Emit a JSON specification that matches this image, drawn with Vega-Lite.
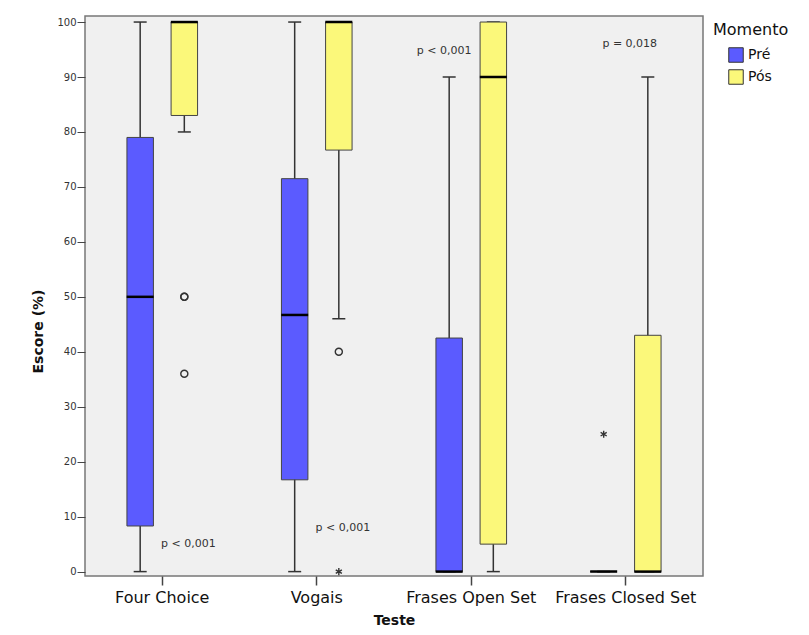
{
  "$schema": "https://vega.github.io/schema/vega-lite/v6.json",
  "autosize": {"type": "none"},
  "padding": {"left": 85, "top": 16, "right": 106, "bottom": 59},
  "width": 618,
  "height": 560,
  "background": "white",
  "config": {
    "font": "DejaVu Sans",
    "view": {"fill": "#f0f0f0", "stroke": "#777777", "strokeWidth": 1.5}
  },
  "datasets": {
    "boxes": [
      {"teste": "Four Choice", "momento": "Pré", "lower": 0, "q1": 8.3, "median": 50, "q3": 79, "upper": 100},
      {"teste": "Four Choice", "momento": "Pós", "lower": 80, "q1": 83, "median": 100, "q3": 100, "upper": 100},
      {"teste": "Vogais", "momento": "Pré", "lower": 0, "q1": 16.7, "median": 46.7, "q3": 71.5, "upper": 100},
      {"teste": "Vogais", "momento": "Pós", "lower": 46, "q1": 76.7, "median": 100, "q3": 100, "upper": 100},
      {"teste": "Frases Open Set", "momento": "Pré", "lower": 0, "q1": 0, "median": 0, "q3": 42.5, "upper": 90},
      {"teste": "Frases Open Set", "momento": "Pós", "lower": 0, "q1": 5, "median": 90, "q3": 100, "upper": 100},
      {"teste": "Frases Closed Set", "momento": "Pré", "lower": 0, "q1": 0, "median": 0, "q3": 0, "upper": 0},
      {"teste": "Frases Closed Set", "momento": "Pós", "lower": 0, "q1": 0, "median": 0, "q3": 43, "upper": 90}
    ],
    "outliers": [
      {"teste": "Four Choice", "momento": "Pós", "value": 50, "tipo": "circulo"},
      {"teste": "Four Choice", "momento": "Pós", "value": 50, "tipo": "circulo"},
      {"teste": "Four Choice", "momento": "Pós", "value": 36, "tipo": "circulo"},
      {"teste": "Vogais", "momento": "Pós", "value": 40, "tipo": "circulo"},
      {"teste": "Vogais", "momento": "Pós", "value": 0, "tipo": "estrela"},
      {"teste": "Frases Closed Set", "momento": "Pré", "value": 25, "tipo": "estrela"}
    ],
    "notas": [
      {"teste": "Four Choice", "momento": "Pós", "value": 5, "texto": "p < 0,001"},
      {"teste": "Vogais", "momento": "Pós", "value": 8, "texto": "p < 0,001"}
    ],
    "notas1": [
      {"teste": "Frases Open Set", "momento": "Pré", "value": 94.7, "texto": "p < 0,001"}
    ],
    "notas2": [
      {"teste": "Frases Closed Set", "value": 96, "texto": "p = 0,018"}
    ]
  },
  "encoding": {
    "x": {
      "field": "teste",
      "type": "nominal",
      "sort": ["Four Choice", "Vogais", "Frases Open Set", "Frases Closed Set"],
      "scale": {"paddingInner": 0, "paddingOuter": 0},
      "axis": {
        "title": "Teste",
        "titleFontSize": 14,
        "titleFontWeight": "bold",
        "titleColor": "#111111",
        "titlePadding": 8,
        "labelAngle": 0,
        "labelFontSize": 16,
        "labelColor": "#111111",
        "labelPadding": 4,
        "tickSize": 9,
        "tickColor": "#444444",
        "tickWidth": 1.5,
        "domain": false
      }
    }
  },
  "layer": [
    {
      "data": {"name": "boxes"},
      "mark": {"type": "rule", "color": "#333333", "strokeWidth": 1.5},
      "encoding": {
        "xOffset": {"field": "momento", "type": "nominal", "sort": ["Pré", "Pós"], "scale": {"paddingInner": 0.4, "paddingOuter": 0.95}},
        "y": {
          "field": "lower",
          "type": "quantitative",
          "scale": {"domain": [-0.8, 101.1], "nice": false, "zero": false},
          "axis": {
            "title": "Escore (%)",
            "titleFontSize": 14,
            "titleFontWeight": "bold",
            "titleColor": "#111111",
            "titlePadding": 11,
            "titleY": 315,
            "values": [0, 5, 10, 15, 20, 25, 30, 35, 40, 45, 50, 55, 60, 65, 70, 75, 80, 85, 90, 95, 100],
            "labelExpr": "datum.value % 10 === 0 ? datum.label : ''",
            "labelFontSize": 10,
            "labelColor": "#333333",
            "labelPadding": 1,
            "tickSize": {"condition": {"test": "datum.value % 10 !== 0", "value": 4}, "value": 8},
            "tickColor": "#444444",
            "tickWidth": 1,
            "grid": false,
            "domain": false
          }
        },
        "y2": {"field": "upper"}
      }
    },
    {
      "data": {"name": "boxes"},
      "mark": {"type": "tick", "color": "#333333", "size": 13, "thickness": 1.5, "opacity": 1},
      "encoding": {
        "xOffset": {"field": "momento", "type": "nominal", "sort": ["Pré", "Pós"]},
        "y": {"field": "lower", "type": "quantitative"}
      }
    },
    {
      "data": {"name": "boxes"},
      "mark": {"type": "tick", "color": "#333333", "size": 13, "thickness": 1.5, "opacity": 1},
      "encoding": {
        "xOffset": {"field": "momento", "type": "nominal", "sort": ["Pré", "Pós"]},
        "y": {"field": "upper", "type": "quantitative"}
      }
    },
    {
      "data": {"name": "boxes"},
      "mark": {"type": "bar", "stroke": "#444444", "strokeWidth": 1, "opacity": 1},
      "encoding": {
        "xOffset": {"field": "momento", "type": "nominal", "sort": ["Pré", "Pós"]},
        "y": {"field": "q1", "type": "quantitative"},
        "y2": {"field": "q3"},
        "color": {
          "field": "momento",
          "type": "nominal",
          "sort": ["Pré", "Pós"],
          "scale": {"domain": ["Pré", "Pós"], "range": ["#5b5bff", "#fbf87a"]},
          "legend": {
            "title": "Momento",
            "titleFontSize": 16,
            "titleFontWeight": "normal",
            "titleColor": "#111111",
            "titlePadding": 9,
            "labelFontSize": 14,
            "labelColor": "#111111",
            "labelOffset": 4,
            "symbolType": "square",
            "symbolSize": 210,
            "symbolStrokeColor": "#333333",
            "symbolStrokeWidth": 1,
            "symbolOffset": 15,
            "rowPadding": 2,
            "offset": 4,
            "padding": 6
          }
        }
      }
    },
    {
      "data": {"name": "boxes"},
      "mark": {"type": "tick", "color": "#000000", "size": 27, "thickness": 2.5, "opacity": 1},
      "encoding": {
        "xOffset": {"field": "momento", "type": "nominal", "sort": ["Pré", "Pós"]},
        "y": {"field": "median", "type": "quantitative"}
      }
    },
    {
      "data": {"name": "outliers"},
      "mark": {"type": "point", "filled": false, "color": "#333333", "strokeWidth": 1.4, "size": 50, "opacity": 1},
      "encoding": {
        "xOffset": {"field": "momento", "type": "nominal", "sort": ["Pré", "Pós"]},
        "y": {"field": "value", "type": "quantitative"},
        "shape": {
          "field": "tipo",
          "type": "nominal",
          "scale": {"domain": ["circulo", "estrela"], "range": ["circle", "M0,-1L0,1M-0.87,-0.5L0.87,0.5M-0.87,0.5L0.87,-0.5"]},
          "legend": null
        }
      }
    },
    {
      "data": {"name": "notas"},
      "mark": {"type": "text", "fontSize": 11, "color": "#333333", "baseline": "middle", "align": "center", "dx": 4},
      "encoding": {
        "xOffset": {"field": "momento", "type": "nominal", "sort": ["Pré", "Pós"]},
        "y": {"field": "value", "type": "quantitative"},
        "text": {"field": "texto"}
      }
    },
    {
      "data": {"name": "notas1"},
      "mark": {"type": "text", "fontSize": 11, "color": "#333333", "baseline": "middle", "align": "center", "dx": -5},
      "encoding": {
        "xOffset": {"field": "momento", "type": "nominal", "sort": ["Pré", "Pós"]},
        "y": {"field": "value", "type": "quantitative"},
        "text": {"field": "texto"}
      }
    },
    {
      "data": {"name": "notas2"},
      "mark": {"type": "text", "fontSize": 11, "color": "#333333", "baseline": "middle", "align": "center", "dx": 4},
      "encoding": {
        "y": {"field": "value", "type": "quantitative"},
        "text": {"field": "texto"}
      }
    }
  ]
}
